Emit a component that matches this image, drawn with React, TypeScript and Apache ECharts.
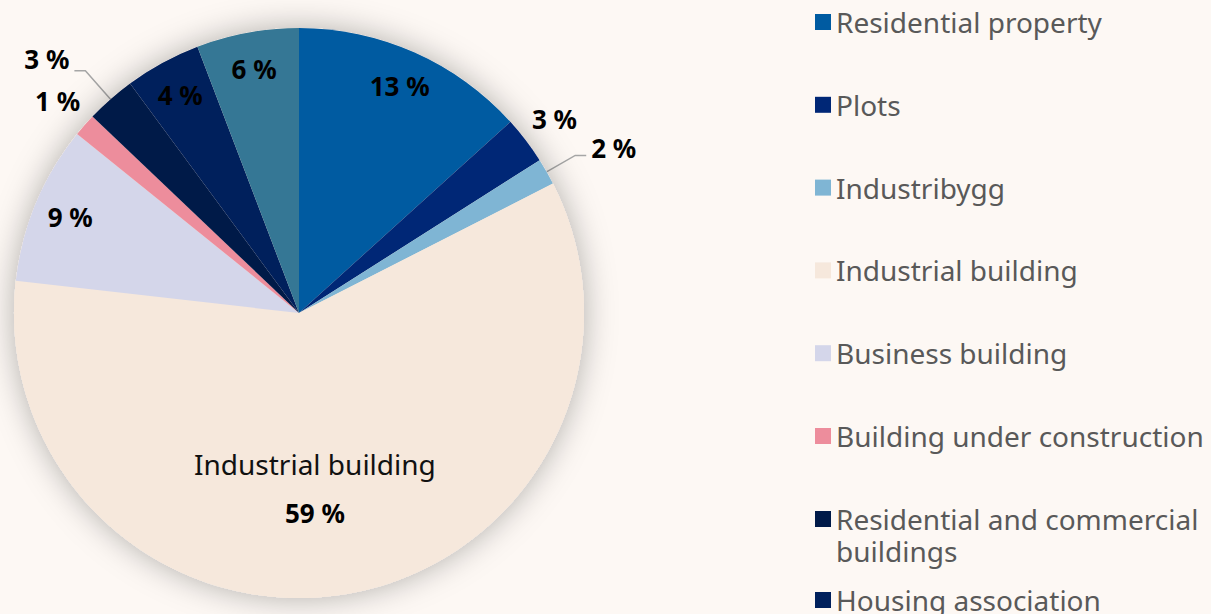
import React, { useEffect, useRef } from 'react';
import * as echarts from 'echarts';

const categories = [
  'Residential property',
  'Plots',
  'Industribygg',
  'Industrial building',
  'Business building',
  'Building under construction',
  'Residential and commercial buildings',
  'Housing association',
  'Other',
];
const shares = [13.3, 2.7, 1.5, 59.3, 9.0, 1.3, 2.8, 4.3, 5.8];
const colors = ['#005ba1', '#002776', '#7fb5d4', '#f6e8dc', '#d4d6ea', '#ed8d9c', '#001a48', '#00205c', '#357795'];

// which slices carry which kind of label
const innerLabelled = ['Residential property', 'Business building', 'Housing association', 'Other'];
const nearLabelled = ['Plots', 'Building under construction'];
const leaderLabelled = ['Industribygg', 'Residential and commercial buildings'];
const centreLabelled = ['Industrial building'];

const legendMain = categories.slice(0, 6);
const legendWrapped = ['Residential and commercial buildings'];
const legendLast = ['Housing association'];

const FONT = '"Noto Sans", sans-serif';
const BG = '#fdf8f4';
const CENTER = [299, 313];
const R = 285;

const pct = (v: number) => `${Math.round(v)} %`;
const boldLabel = { color: '#000', fontFamily: FONT, fontWeight: 'bold' as const, fontSize: 26 };

function overlaySeries(name: string, radius: number[], names: string[]) {
  return {
    type: 'pie',
    name,
    center: CENTER,
    radius,
    silent: true,
    avoidLabelOverlap: false,
    emphasis: { disabled: true },
    itemStyle: { color: 'rgba(0,0,0,0)', borderWidth: 0 },
    labelLine: { show: false },
    data: categories.map((c, i) => ({
      name: c,
      value: shares[i],
      label: names.includes(c)
        ? { show: true, position: 'inside', formatter: pct(shares[i]), ...boldLabel }
        : { show: false },
    })),
  };
}

const legendBase = {
  orient: 'vertical',
  left: 815,
  padding: 0,
  itemWidth: 16,
  itemHeight: 16,
  itemGap: 50.8,
  icon: 'rect',
  selectedMode: false,
  itemStyle: { borderWidth: 0 },
  textStyle: { color: '#595959', fontFamily: FONT, fontSize: 28, lineHeight: 32 },
};

const option = {
  animation: false,
  backgroundColor: BG,
  legend: [
    { ...legendBase, top: 6, data: legendMain },
    {
      ...legendBase,
      top: 471,
      data: legendWrapped,
      formatter: () => '\nResidential and commercial\nbuildings',
    },
    { ...legendBase, top: 584, data: legendLast },
  ],
  series: [
    {
      type: 'pie',
      name: 'shadow',
      center: CENTER,
      radius: R,
      silent: true,
      emphasis: { disabled: true },
      label: { show: false },
      labelLine: { show: false },
      itemStyle: { color: '#f6e8dc', shadowBlur: 32, shadowColor: 'rgba(0,0,0,0.3)', borderWidth: 0 },
      data: [{ name: '', value: 1 }],
    },
    {
      type: 'pie',
      name: 'Portfolio',
      center: CENTER,
      radius: R,
      avoidLabelOverlap: false,
      emphasis: { disabled: true },
      itemStyle: { borderWidth: 0 },
      labelLayout: (p: any) => {
        if (p.dataIndex === 3) return { dx: -10, dy: 32 };
        if (p.dataIndex === 2) return { dy: -7 };
        if (p.dataIndex === 6) return { dy: -12 };
        return undefined;
      },
      data: categories.map((c, i) => {
        const base: any = { name: c, value: shares[i], itemStyle: { color: colors[i] } };
        if (centreLabelled.includes(c)) {
          base.label = {
            show: true,
            position: 'inside',
            formatter: `{n|${c}}\n{v|${pct(shares[i])}}`,
            rich: {
              n: { color: '#111', fontFamily: FONT, fontSize: 28, lineHeight: 49 },
              v: { color: '#000', fontFamily: FONT, fontWeight: 'bold', fontSize: 26, lineHeight: 49 },
            },
          };
          base.labelLine = { show: false };
        } else if (leaderLabelled.includes(c)) {
          base.label = { show: true, position: 'outside', formatter: pct(shares[i]), distanceToLabelLine: 5, ...boldLabel };
          base.labelLine = {
            show: true,
            length: i === 2 ? 33 : 38,
            length2: 11,
            smooth: false,
            lineStyle: { color: '#a6a6a6', width: 1.5 },
          };
        } else {
          base.label = { show: false };
          base.labelLine = { show: false };
        }
        return base;
      }),
    },
    overlaySeries('inner labels', [200, 290], innerLabelled),
    overlaySeries('near labels', [300, 336], nearLabelled),
  ],
};

export default function App() {
  const ref = useRef<HTMLDivElement>(null);
  useEffect(() => {
    const chart = echarts.init(ref.current!, null, { renderer: 'svg' });
    chart.setOption(option as any);
    return () => chart.dispose();
  }, []);
  return <div ref={ref} style={{ position: 'fixed', left: 0, top: 0, width: 1211, height: 614 }} />;
}
